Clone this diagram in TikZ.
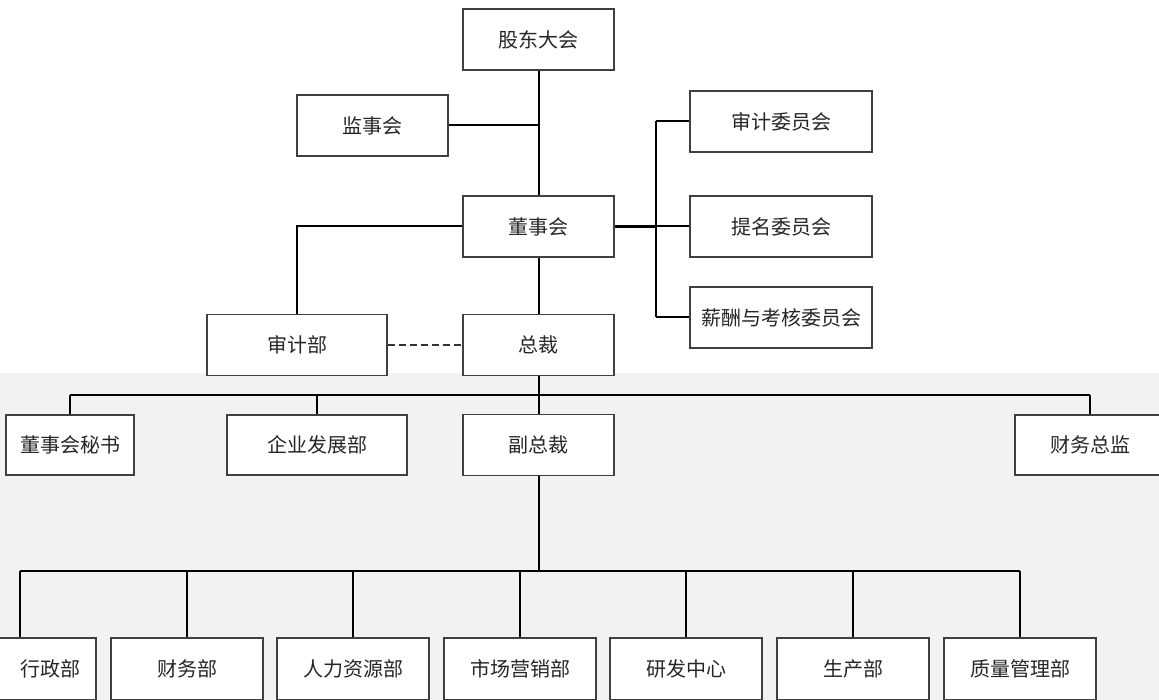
\documentclass[tikz,border=0pt]{standalone}
\usepackage{fontspec}
\newfontfamily\cjk{Noto Sans CJK SC}
\usetikzlibrary{positioning}
\tikzset{
  orgbox/.style={draw=black!75, line width=1.4pt, fill=white, inner sep=0pt,
    font=\cjk\fontsize{20}{24}\selectfont, text=black!85},
  wbox/.style={orgbox, minimum width=151pt, minimum height=61pt},
  cbox/.style={orgbox, minimum width=182pt, minimum height=61pt},
  link/.style={draw=black, line width=2pt},
  dlink/.style={draw=black!80, line width=1.6pt, dash pattern=on 7pt off 4pt}
}
\begin{document}
\begin{tikzpicture}[x=1pt,y=-1pt]
\useasboundingbox (0,0) rectangle (1159,700);
\clip (0,0) rectangle (1159,700);
\fill[white] (0,0) rectangle (1159,373);
\fill[black!5] (0,373) rectangle (1159,700);

% governance
\node[wbox] (gd) at (538.5,39.5) {股东大会};
\node[wbox] (js) at (372.5,125.5) {监事会};
\node[wbox] (ds) at (538.5,226.5) {董事会};
\node[cbox] (sj) at (781,121.5) {审计委员会};
\node[cbox] (tm) at (781,226.5) {提名委员会};
\node[cbox] (xc) at (781,317.5) {薪酬与考核委员会};
\node[orgbox, minimum width=180pt, minimum height=61pt] (sjb) at (297,345) {审计部};
\node[wbox] (zc) at (538.5,345) {总裁};

\coordinate (jn) at (gd.south |- js.east);
\coordinate (cx) at (656,226.5);
\draw[link] (gd.south) -- (ds.north);
\draw[link] (js.east) -- (jn);
\draw[link, line width=2.8pt] (ds.east) -- (cx);
\draw[link] (cx |- sj.west) -- (cx |- xc.west);
\draw[link] (cx |- sj.west) -- (sj.west);
\draw[link] (cx) -- (tm.west);
\draw[link] (cx |- xc.west) -- (xc.west);
\draw[link] (ds.west) -| (sjb.north);
\draw[link] (ds.south) -- (zc.north);
\draw[dlink] (sjb.east) -- (zc.west);

% second level
\node[orgbox, minimum width=128pt, minimum height=60pt] (ms) at (70,445) {董事会秘书};
\node[orgbox, minimum width=180pt, minimum height=60pt] (qf) at (317,445) {企业发展部};
\node[wbox] (fz) at (538.5,445) {副总裁};
\node[orgbox, minimum width=150pt, minimum height=60pt] (cw) at (1090,445) {财务总监};
\coordinate (b1) at (0,395);
\draw[link] (zc.south) -- (zc.south |- b1);
\draw[link] (ms.north |- b1) -- (cw.north |- b1);
\draw[link] (ms.north |- b1) -- (ms.north);
\draw[link] (qf.north |- b1) -- (qf.north);
\draw[link] (zc.south |- b1) -- (fz.north);
\draw[link] (cw.north |- b1) -- (cw.north);

% departments
\node[orgbox, minimum width=152pt, minimum height=62pt] (d1) at (20,669) {};
\node[font=\cjk\fontsize{20}{24}\selectfont, text=black!85, inner sep=0pt] (d1t) at (50,669) {行政部};
\foreach \n/\x/\t in {d2/187/财务部, d3/353/人力资源部, d4/520/市场营销部,
                       d5/686/研发中心, d6/853/生产部, d7/1020/质量管理部}{
  \node[orgbox, minimum width=152pt, minimum height=62pt] (\n) at (\x,669) {\t};
}
\coordinate (b2) at (0,571);
\draw[link] (fz.south) -- (fz.south |- b2);
\draw[link] (d1.north |- b2) -- (d7.north |- b2);
\foreach \n in {d1,d2,d3,d4,d5,d6,d7}{
  \draw[link] (\n.north |- b2) -- (\n.north);
}
\end{tikzpicture}
\end{document}
